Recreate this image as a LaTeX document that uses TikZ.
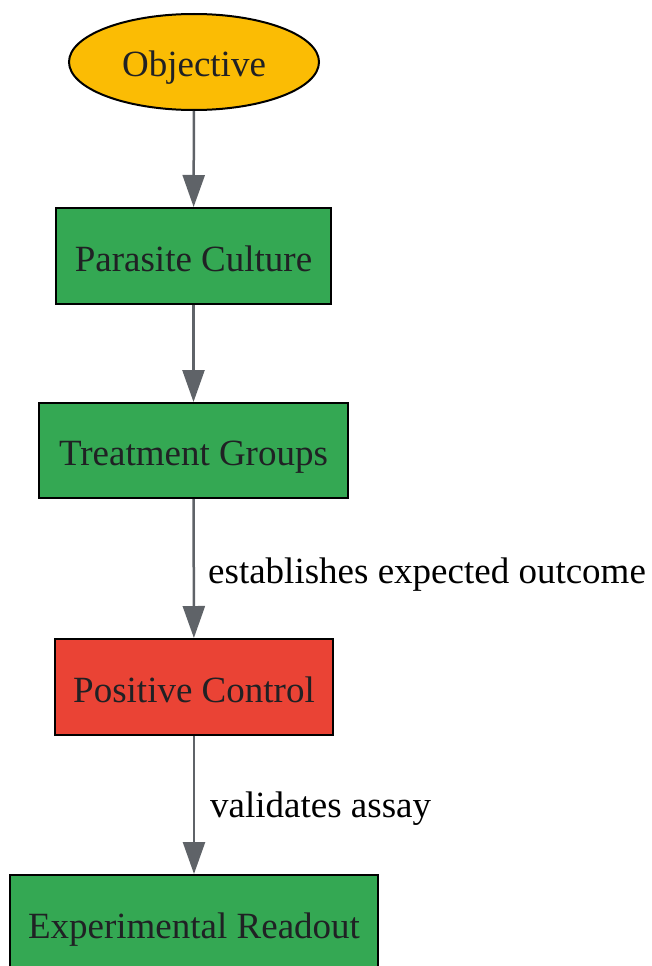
\documentclass[tikz,border=0pt]{standalone}
\usepackage{fontspec}
\setmainfont{Liberation Serif}
\usetikzlibrary{shapes.geometric,arrows.meta}
\definecolor{gold}{HTML}{FBBC04}
\definecolor{gg}{HTML}{34A853}
\definecolor{rr}{HTML}{EA4335}
\definecolor{txt}{HTML}{202124}
\definecolor{edge}{HTML}{5F6368}
\begin{document}
\begin{tikzpicture}[x=1pt,y=-1pt,
  box/.style={draw=black,line width=2pt,inner sep=0pt,text=txt,text height=30pt,text depth=0pt,font=\fontsize{37}{44}\selectfont},
  conn/.style={draw=edge,line width=2.5pt,-{Triangle[length=32pt,width=22pt]}},
  lbl/.style={anchor=base west,text=black,font=\fontsize{37}{44}\selectfont,inner sep=0pt}]
\useasboundingbox (0,0) rectangle (652,966);
\node[box,ellipse,fill=gold,minimum width=250pt,minimum height=96pt] (obj) at (194,62) {Objective};
\node[box,rectangle,fill=gg,minimum width=275pt,minimum height=96pt] (pc) at (193.5,256) {Parasite Culture};
\node[box,rectangle,fill=gg,minimum width=309pt,minimum height=95pt] (tg) at (193.5,450.5) {Treatment Groups};
\node[box,rectangle,fill=rr,minimum width=278pt,minimum height=96pt] (pos) at (194,687) {Positive Control};
\node[box,rectangle,fill=gg,minimum width=368pt,minimum height=96pt] (er) at (194,923) {Experimental Readout};
\draw[conn] (obj) -- (pc);
\draw[conn] (pc) -- (tg);
\draw[conn] (tg) -- (pos);
\draw[conn] (pos) -- (er);
\node[lbl] (l1) at (208,583) {establishes expected outcome};
\node[lbl] (l2) at (210,817) {validates assay};
\end{tikzpicture}
\end{document}
